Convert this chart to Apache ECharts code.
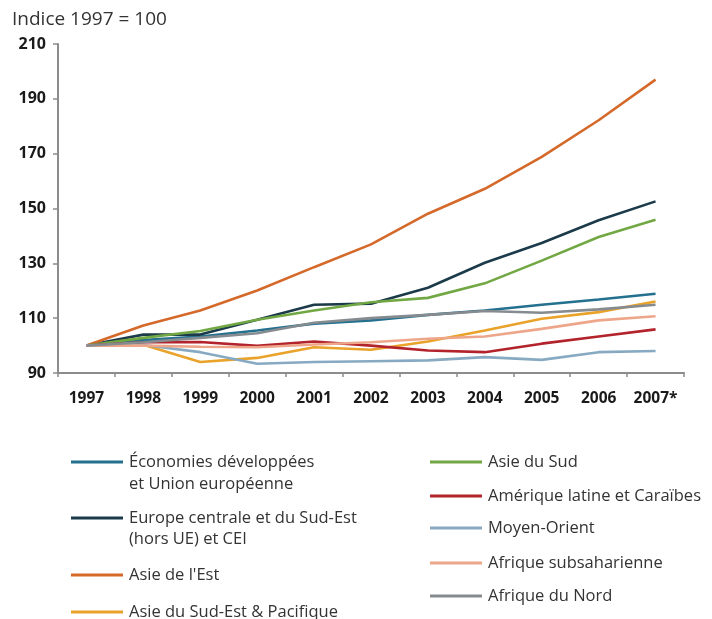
<!DOCTYPE html>
<html>
<head>
<meta charset="utf-8">
<script src="https://cdn.jsdelivr.net/npm/echarts@6/dist/echarts.min.js"></script>
<style>html,body{margin:0;padding:0;background:#fff}#c{width:712px;height:619px}</style>
</head>
<body>
<div id="c"></div>
<script>
var years = ['1997','1998','1999','2000','2001','2002','2003','2004','2005','2006','2007*'];
var yTicks = [90, 110, 130, 150, 170, 190, 210];

var economies      = [100, 102.0, 103.3, 105.5, 108.0, 109.2, 111.2, 112.8, 114.9, 116.8, 118.9];
var europeCentrale = [100, 104.0, 104.0, 109.4, 114.9, 115.3, 121.1, 130.2, 137.4, 145.7, 152.6];
var asieEst        = [100, 107.3, 112.8, 120.1, 128.6, 136.9, 148.1, 157.2, 168.8, 182.2, 197.0];
var asieSudEst     = [100, 100.3, 94.0, 95.5, 99.4, 98.5, 101.5, 105.5, 109.8, 112.2, 116.1];
var asieSud        = [100, 102.8, 105.3, 109.4, 112.8, 115.8, 117.4, 122.7, 131.0, 139.6, 145.9];
var ameriqueLatine = [100, 101.2, 101.3, 99.9, 101.5, 100.0, 98.2, 97.6, 100.7, 103.3, 105.9];
var moyenOrient    = [100, 100.2, 97.6, 93.4, 94.0, 94.3, 94.6, 95.8, 94.8, 97.6, 98.0];
var afriqueSub     = [100, 100.0, 99.6, 99.4, 100.4, 101.2, 102.5, 103.3, 106.1, 109.2, 110.7];
var afriqueNord    = [100, 101.2, 102.8, 104.5, 108.3, 110.0, 111.2, 112.6, 112.0, 113.2, 114.9];

var names = [
  'Économies développées et Union européenne',
  'Europe centrale et du Sud-Est (hors UE) et CEI',
  "Asie de l'Est",
  'Asie du Sud-Est & Pacifique',
  'Asie du Sud',
  'Amérique latine et Caraïbes',
  'Moyen-Orient',
  'Afrique subsaharienne',
  'Afrique du Nord'
];
var firstLines = {
  'Économies développées et Union européenne': 'Économies développées',
  'Europe centrale et du Sud-Est (hors UE) et CEI': 'Europe centrale et du Sud-Est'
};
var secondLines = ['et Union européenne', '(hors UE) et CEI'];
var colors = ['#23708f', '#1c3b4a', '#d4692a', '#e9a22a', '#72a844', '#b3232b', '#87aac2', '#eea68b', '#868b90'];
var datasets = [economies, europeCentrale, asieEst, asieSudEst, asieSud, ameriqueLatine, moyenOrient, afriqueSub, afriqueNord];

var FONT = '"Open Sans", "Noto Sans", sans-serif';
var series = names.map(function (n, i) {
  return {
    name: n, type: 'line', data: datasets[i], symbol: 'none',
    lineStyle: { color: colors[i], width: 2.6 }, itemStyle: { color: colors[i] },
    z: 2 + i
  };
});

var LFS = 16.5;
var legendPos = [
  { left: 71, cy: 462 }, { left: 71, cy: 518 }, { left: 71, cy: 575 }, { left: 71, cy: 612 },
  { left: 430, cy: 462 }, { left: 430, cy: 496 }, { left: 430, cy: 528 }, { left: 430, cy: 563 }, { left: 430, cy: 596 }
];
var legends = names.map(function (n, i) {
  return {
    data: [n], left: legendPos[i].left, top: legendPos[i].cy - 10, padding: 0,
    icon: 'rect', itemWidth: 52, itemHeight: 3, itemGap: 0, selectedMode: false,
    formatter: function (name) { return firstLines[name] || name; },
    textStyle: { fontFamily: FONT, fontSize: LFS, color: '#333', lineHeight: 20, padding: [0, 0, 0, 1] }
  };
});

var chart = echarts.init(document.getElementById('c'), null, { renderer: 'canvas' });
chart.setOption({
  animation: false,
  title: {
    text: 'Indice 1997 = 100', left: 7, top: 5,
    textStyle: { fontFamily: FONT, fontSize: 19, fontWeight: 'normal', color: '#333' }
  },
  legend: legends,
  graphic: [
    { type: 'text', x: 129, y: 484, style: { text: secondLines[0], font: LFS + 'px ' + FONT, fill: '#333', verticalAlign: 'middle', textVerticalAlign: 'middle' } },
    { type: 'text', x: 129, y: 539, style: { text: secondLines[1], font: LFS + 'px ' + FONT, fill: '#333', verticalAlign: 'middle', textVerticalAlign: 'middle' } }
  ],
  grid: { left: 58, right: 28, top: 44, bottom: 246, containLabel: false },
  xAxis: {
    type: 'category', data: years, boundaryGap: true,
    axisLine: { lineStyle: { color: '#8c8c8c', width: 2 } },
    axisTick: { show: true, length: 4, interval: 0, lineStyle: { color: '#8c8c8c', width: 1.5 } },
    axisLabel: { interval: 0, hideOverlap: false, margin: 18, fontFamily: FONT, fontSize: 15.5, fontWeight: 'bold', color: '#1a1a1a' }
  },
  yAxis: {
    type: 'value', min: yTicks[0], max: yTicks[yTicks.length - 1], interval: 20,
    splitLine: { show: false },
    axisLine: { show: true, lineStyle: { color: '#8c8c8c', width: 2 } },
    axisTick: { show: true, length: 5, lineStyle: { color: '#8c8c8c', width: 1.5 } },
    axisLabel: { margin: 12, fontFamily: FONT, fontSize: 16, fontWeight: 'bold', color: '#1a1a1a' }
  },
  series: series
});
</script>
</body>
</html>
